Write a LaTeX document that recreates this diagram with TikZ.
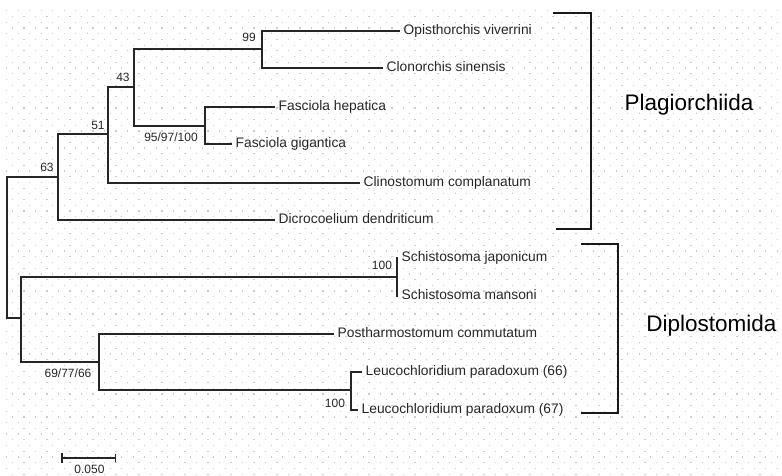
\documentclass[tikz,border=0pt]{standalone}
\usepackage{fontspec}
\setmainfont{Liberation Sans}
\begin{document}
\begin{tikzpicture}[
  x=1pt, y=-1pt,
  every node/.style={font=\fontsize{13.8}{16}\selectfont, text=black!85},
  branch/.style={draw=black!85, line width=1.2pt},
  taxon/.style={anchor=west, inner xsep=3.5pt, inner ysep=0pt, text height=10pt, text depth=2.8pt},
  boot/.style={font=\fontsize{12}{14}\selectfont, inner sep=0pt},
  clade/.style={font=\fontsize{22.5}{26}\selectfont, inner sep=0pt, anchor=base, text=black},
  bracket/.style={draw=black!90, line width=2pt},
  griddot/.style={fill=black!20}
]
  \useasboundingbox (0,0) rectangle (782,475);
  % dotted background
  \foreach \r in {0,...,81}
    \foreach \c in {0,...,67}
      \fill[griddot] ({6.2+\c*11.5+mod(\r,2)*5.75},{10.2+\r*5.72}) rectangle ++(1.2,1.2);

  % inner nodes of the tree
  \coordinate (root) at (7,250);
  \coordinate (n63) at (58,177);
  \coordinate (n51) at (108,134);
  \coordinate (n43) at (134,87);
  \coordinate (n99) at (262,49);
  \coordinate (nfas) at (205,126);
  \coordinate (ndip) at (21,318);
  \coordinate (nsch) at (397,277);
  \coordinate (npl) at (99,362);
  \coordinate (nleu) at (351,390);

  % taxa
  \node[taxon] (opis) at (400,31) {Opisthorchis viverrini};
  \node[taxon] (clon) at (383,68) {Clonorchis sinensis};
  \node[taxon] (hep) at (275,107) {Fasciola hepatica};
  \node[taxon] (gig) at (232,144) {Fasciola gigantica};
  \node[taxon] (clino) at (360,183) {Clinostomum complanatum};
  \node[taxon] (dicro) at (275,220) {Dicrocoelium dendriticum};
  \node[taxon] (japo) at (398,258) {Schistosoma japonicum};
  \node[taxon] (mans) at (398,296) {Schistosoma mansoni};
  \node[taxon] (post) at (334,334) {Postharmostomum commutatum};
  \node[taxon] (leu66) at (362,372) {Leucochloridium paradoxum (66)};
  \node[taxon] (leu67) at (358,410) {Leucochloridium paradoxum (67)};

  % branches
  \draw[branch] (n63) -| (root) |- (ndip);
  \draw[branch] (n51) -| (n63) |- (dicro.west);
  \draw[branch] (n43) -| (n51) |- (clino.west);
  \draw[branch] (n99) -| (n43) |- (nfas);
  \draw[branch] (opis.west) -| (n99) |- (clon.west);
  \draw[branch] (hep.west) -| (nfas) |- (gig.west);
  \draw[branch] (nsch) -| (ndip) |- (npl);
  \draw[branch] (japo.west) -| (nsch) |- (mans.west);
  \draw[branch] (post.west) -| (npl) |- (nleu);
  \draw[branch] (leu66.west) -| (nleu) |- (leu67.west);

  % bootstrap values
  \node[boot] (b99) at (249,37) {99};
  \node[boot] (b43) at (123,77) {43};
  \node[boot] (b51) at (98,125) {51};
  \node[boot] (b63) at (47,167) {63};
  \node[boot] (bfas) at (171,137) {95/97/100};
  \node[boot] (bsch) at (382,265) {100};
  \node[boot] (bpl) at (68,373) {69/77/66};
  \node[boot] (bleu) at (335,403) {100};

  % orders
  \draw[bracket] (553,12.5) -- (590.5,12.5) -- (590.5,229) -- (556,229);
  \draw[bracket] (581,244) -- (617.5,244) -- (617.5,413) -- (581,413);
  \node[clade] (plag) at (689,110) {Plagiorchiida};
  \node[clade] (dipl) at (711.5,331) {Diplostomida};

  % scale bar
  \coordinate (sb1) at (62,458);
  \coordinate (sb2) at (115,458);
  \draw[branch] (sb1) -- (sb2);
  \draw[branch] ([yshift=-5pt]sb1) -- ([yshift=5pt]sb1);
  \draw[branch, line width=0.8pt] ([yshift=-4pt]sb2) -- ([yshift=4pt]sb2);
  \node[boot] (sblab) at (89.5,469.5) {0.050};
\end{tikzpicture}
\end{document}
